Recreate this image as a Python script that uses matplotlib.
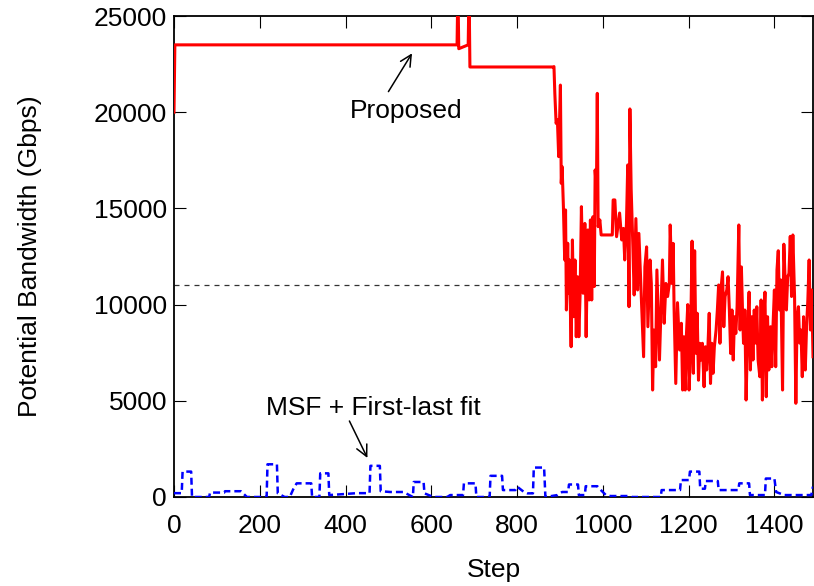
import matplotlib
matplotlib.use("Agg")
import matplotlib.pyplot as plt

plt.rcParams['font.family'] = ['Liberation Sans', 'DejaVu Sans']

# ---- data ----
proposed_steps = [0, 2, 660, 662, 664, 686, 688, 690, 884,
    886, 888, 891, 894, 897, 901, 903, 905, 908, 911, 913, 915, 918, 920, 922, 926,
    929, 932, 935, 938, 941, 944, 947, 950, 954, 958, 961, 965, 968, 971, 974, 977,
    980, 982, 985, 987, 989, 993, 996, 1022, 1024, 1028, 1032, 1035, 1039, 1044, 1048,
    1051, 1055, 1058, 1061, 1063, 1066, 1070, 1073, 1077, 1081, 1084, 1088, 1092, 1095,
    1098, 1102, 1105, 1110, 1113, 1116, 1119, 1123, 1126, 1129, 1132, 1135, 1139, 1143,
    1147, 1151, 1155, 1157, 1161, 1164, 1166, 1170, 1174, 1179, 1183, 1186, 1189, 1192,
    1195, 1198, 1201, 1204, 1208, 1211, 1214, 1217, 1220, 1223, 1226, 1229, 1232, 1236,
    1239, 1242, 1245, 1248, 1251, 1254, 1257, 1260, 1264, 1267, 1270, 1273, 1276, 1279,
    1282, 1285, 1289, 1292, 1295, 1298, 1301, 1304, 1307, 1310, 1313, 1317, 1320, 1323,
    1326, 1328, 1331, 1334, 1338, 1341, 1344, 1347, 1350, 1353, 1356, 1359, 1362, 1366,
    1369, 1372, 1375, 1378, 1381, 1384, 1387, 1391, 1394, 1397, 1400, 1403, 1406, 1409,
    1412, 1415, 1419, 1422, 1425, 1428, 1431, 1434, 1437, 1440, 1443, 1447, 1450, 1453,
    1456, 1459, 1462, 1465, 1468, 1472, 1475, 1478, 1481, 1484, 1487, 1490]
proposed_values = [20000, 23500, 23500, 26500, 23300, 23500, 26500, 22350, 22350,
    22370, 20980, 19420, 19600, 17690, 21410, 16300, 17170, 15090, 12320, 14920, 9720,
    13190, 10590, 12320, 7810, 13360, 9370, 12320, 8330, 11450, 8330, 10590, 15090,
    10590, 14220, 8330, 13880, 10240, 14400, 10240, 14570, 10940, 17000, 15960, 20980,
    14050, 14400, 13620, 13620, 15440, 15440, 13530, 14050, 14760, 13360, 13960, 12320,
    14200, 17260, 9890, 20170, 16000, 13000, 10500, 14470, 10760, 13700, 11400, 9200,
    7290, 11960, 13000, 8850, 12320, 11100, 5560, 8680, 6770, 11800, 9370, 7120, 9370,
    12320, 9030, 11100, 10420, 11100, 14140, 11100, 13180, 9890, 5900, 10100, 7640, 9030,
    5560, 8330, 5560, 8500, 10000, 5560, 7290, 13300, 6430, 12800, 7470, 9550, 6070, 7990,
    7120, 7990, 5730, 7810, 6600, 7810, 9550, 5900, 7990, 6430, 7810, 8680, 9720, 11020,
    7990, 10940, 11700, 8850, 10420, 10760, 11450, 9720, 7460, 9720, 7120, 9370, 8500,
    9890, 14140, 8680, 11960, 9370, 7990, 9720, 5040, 9030, 10650, 6600, 9370, 7120, 9720,
    8000, 9890, 7120, 6250, 10240, 5040, 9030, 10650, 5210, 9370, 6600, 8850, 6770, 9030,
    10760, 6770, 11800, 12800, 9720, 11280, 5560, 13140, 11280, 9720, 11450, 11620, 13550,
    10420, 13620, 10420, 4870, 9370, 9890, 8000, 8680, 6250, 9370, 6600, 8850, 10240,
    12320, 8680, 10760, 7290]

msf_steps = [0, 18, 20, 40, 42, 82, 84, 117, 119, 156, 170, 216, 218, 240, 242, 258,
    270, 278, 286, 320, 322, 339, 341, 360, 362, 395, 426, 456, 458, 480, 482, 504, 535,
    557, 559, 582, 584, 605, 637, 644, 674, 676, 703, 705, 736, 738, 765, 767, 796, 800,
    816, 824, 837, 839, 863, 866, 894, 905, 919, 921, 942, 944, 958, 960, 987, 990, 1007,
    1018, 1065, 1067, 1135, 1137, 1180, 1182, 1201, 1203, 1225, 1227, 1238, 1240, 1268,
    1270, 1316, 1318, 1341, 1343, 1378, 1380, 1400, 1404, 1423, 1486, 1490]
msf_values = [200, 200, 1320, 1320, 0, 0, 230, 230, 300, 300, 0, 0, 1700, 1700, 190, 0,
    0, 400, 710, 710, 0, 0, 1230, 1230, 100, 150, 200, 200, 1620, 1620, 300, 260, 260,
    0, 780, 780, 190, 0, 0, 100, 100, 710, 710, 0, 0, 1100, 1100, 360, 360, 540, 260, 190,
    190, 1530, 1530, 0, 100, 260, 260, 650, 650, 100, 100, 560, 560, 480, 100, 50, 50, 0,
    0, 360, 360, 880, 880, 1320, 1320, 430, 430, 830, 830, 360, 360, 710, 710, 100, 100,
    960, 960, 260, 100, 100, 540]

threshold = 11000
xlim = (0, 1490)
ylim = (0, 25000)
xticks = [0, 200, 400, 600, 800, 1000, 1200, 1400]
yticks = [0, 5000, 10000, 15000, 20000, 25000]

FS = 19

# ---- figure ----
fig = plt.figure(figsize=(8.14, 5.86), dpi=100)
ax = fig.add_axes([174/814, 89/586, 639/814, 481/586])

ax.axhline(threshold, color='#333333', lw=0.9, ls=(0, (4, 4)))
ax.plot(proposed_steps, proposed_values, color='#ff0000', lw=2.2, zorder=3)
ax.plot(msf_steps, msf_values, color='#0000ff', lw=1.8, ls=(0, (2.8, 1.6)), zorder=3)

ax.set_xlim(*xlim)
ax.set_ylim(*ylim)
ax.set_xticks(xticks)
ax.set_yticks(yticks)
ax.tick_params(direction='in', length=8.5, width=0.8, top=True, right=True,
               labelsize=FS)
ax.tick_params(axis='x', pad=12)
ax.tick_params(axis='y', pad=5)
for s in ax.spines.values():
    s.set_linewidth(1.3)

ax.set_xlabel('Step', fontsize=FS, va='center')
ax.xaxis.set_label_coords(0.5, -0.152)
ax.set_ylabel('Potential Bandwidth (Gbps)', fontsize=FS, va='center')
ax.yaxis.set_label_coords(-0.2254, 0.5)

arrow = dict(arrowstyle='->', color='black', lw=1.1, shrinkA=0, shrinkB=0,
             mutation_scale=20)
ax.text(541, 20060, 'Proposed', fontsize=FS, ha='center', va='center')
ax.annotate('', xy=(555, 23060), xytext=(500, 21070), arrowprops=arrow)
ax.text(466, 4630, 'MSF + First-last fit', fontsize=FS, ha='center', va='center')
ax.annotate('', xy=(451, 2030), xytext=(409, 3950), arrowprops=arrow)

fig.savefig('out.png', dpi=100)
